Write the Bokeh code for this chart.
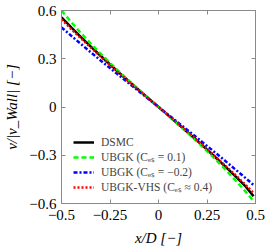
from bokeh.plotting import figure
from bokeh.models import Range1d, FixedTicker, LinearAxis, Legend, LegendItem, CustomLabelingPolicy
from bokeh.embed import file_html
from bokeh.resources import INLINE

# data
x = [-0.50, -0.45, -0.40, -0.35, -0.30, -0.25, -0.20, -0.15, -0.10, -0.05, 0.0,
     0.05, 0.10, 0.15, 0.20, 0.25, 0.30, 0.35, 0.40, 0.45, 0.49]
dsmc = [0.558, 0.495, 0.435, 0.377, 0.320, 0.265, 0.210, 0.157, 0.104, 0.052, 0.0,
        -0.052, -0.104, -0.157, -0.210, -0.265, -0.320, -0.377, -0.435, -0.495, -0.555]
ubgk_01 = [0.600, 0.528, 0.460, 0.395, 0.333, 0.274, 0.216, 0.161, 0.107, 0.053, 0.0,
           -0.053, -0.107, -0.161, -0.216, -0.274, -0.333, -0.395, -0.460, -0.528, -0.585]
ubgk_m02 = [0.495, 0.443, 0.392, 0.341, 0.291, 0.242, 0.193, 0.144, 0.096, 0.048, 0.0,
            -0.048, -0.096, -0.144, -0.193, -0.242, -0.291, -0.341, -0.392, -0.443, -0.485]
ubgk_vhs = [0.545, 0.485, 0.427, 0.371, 0.316, 0.261, 0.208, 0.155, 0.103, 0.0515, 0.0,
            -0.0515, -0.103, -0.155, -0.208, -0.261, -0.316, -0.371, -0.427, -0.485, -0.535]

x_ticks = [-0.5, -0.25, 0, 0.25, 0.5]
x_tick_labels = ["\u22120.5", "\u22120.25", "0", "0.25", "0.5"]
y_ticks = [-0.6, -0.3, 0, 0.3, 0.6]
y_tick_labels = ["\u22120.6", "\u22120.3", "0", "0.3", "0.6"]

labels = ["DSMC", "UBGK (C\u2091\u209b = 0.1)", "UBGK (C\u2091\u209b = \u22120.2)",
          "UBGK-VHS (C\u2091\u209b \u2248 0.4)"]

FONT = "Liberation Serif"
GRID = "#8a8a8a"

p = figure(width=268, height=250, output_backend="svg", toolbar_location=None,
           x_range=Range1d(-0.5, 0.5), y_range=Range1d(-0.6, 0.6),
           min_border_left=61, min_border_right=13, min_border_top=10, min_border_bottom=47)
p.xgrid.visible = False
p.ygrid.visible = False
p.outline_line_color = GRID
p.background_fill_color = "white"
p.border_fill_color = "white"

r1 = p.line(x, dsmc, line_color="black", line_width=2.5)
r2 = p.line(x, ubgk_01, line_color="#00ff00", line_width=2.5, line_dash="5 3")
r3 = p.line(x, ubgk_m02, line_color="#0000ff", line_width=2.5, line_dash="4 2 2 2")
r4 = p.line(x, ubgk_vhs, line_color="#ff0000", line_width=2.5, line_dash="2 2")

hide_all = CustomLabelingPolicy(code="for (const i of indices) { indices.unset(i) }\nreturn indices")

def style(ax, ticks, labs, show):
    ax.ticker = FixedTicker(ticks=ticks)
    ax.major_label_overrides = {t: l for t, l in zip(ticks, labs)}
    ax.minor_tick_line_color = None
    ax.major_tick_in = 4
    ax.major_tick_out = 0
    ax.major_tick_line_color = GRID
    ax.axis_line_color = GRID
    ax.major_label_text_font = FONT
    ax.major_label_text_font_size = "15px"
    ax.major_label_text_color = "black"
    if not show:
        ax.major_label_policy = hide_all
        ax.major_label_text_font_size = "1px"
        ax.major_label_standoff = 0

style(p.xaxis[0], x_ticks, x_tick_labels, True)
style(p.yaxis[0], y_ticks, y_tick_labels, True)
p.xaxis[0].major_label_standoff = 6
p.yaxis[0].major_label_standoff = 5

p.xaxis[0].axis_label = "x/D [\u2212]"
p.yaxis[0].axis_label = "v/|v_Wall| [\u2212]"
for ax in (p.xaxis[0], p.yaxis[0]):
    ax.axis_label_text_font = FONT
    ax.axis_label_text_font_size = "15px"
    ax.axis_label_text_font_style = "italic"
    ax.axis_label_text_color = "black"
p.xaxis[0].axis_label_standoff = 7
p.yaxis[0].axis_label_standoff = 6

top = LinearAxis()
right = LinearAxis()
style(top, x_ticks, x_tick_labels, False)
style(right, y_ticks, y_tick_labels, False)
p.add_layout(top, "above")
p.add_layout(right, "right")

legend = Legend(items=[LegendItem(label=l, renderers=[r]) for l, r in zip(labels, [r1, r2, r3, r4])],
                location=(12, 9), border_line_color=None, background_fill_alpha=0,
                label_text_font=FONT, label_text_font_size="11.5px",
                glyph_width=21, glyph_height=14, label_height=14, spacing=0,
                padding=0, margin=0, label_standoff=7)
p.add_layout(legend, "center")

open("out.html", "w").write(file_html(p, INLINE))
